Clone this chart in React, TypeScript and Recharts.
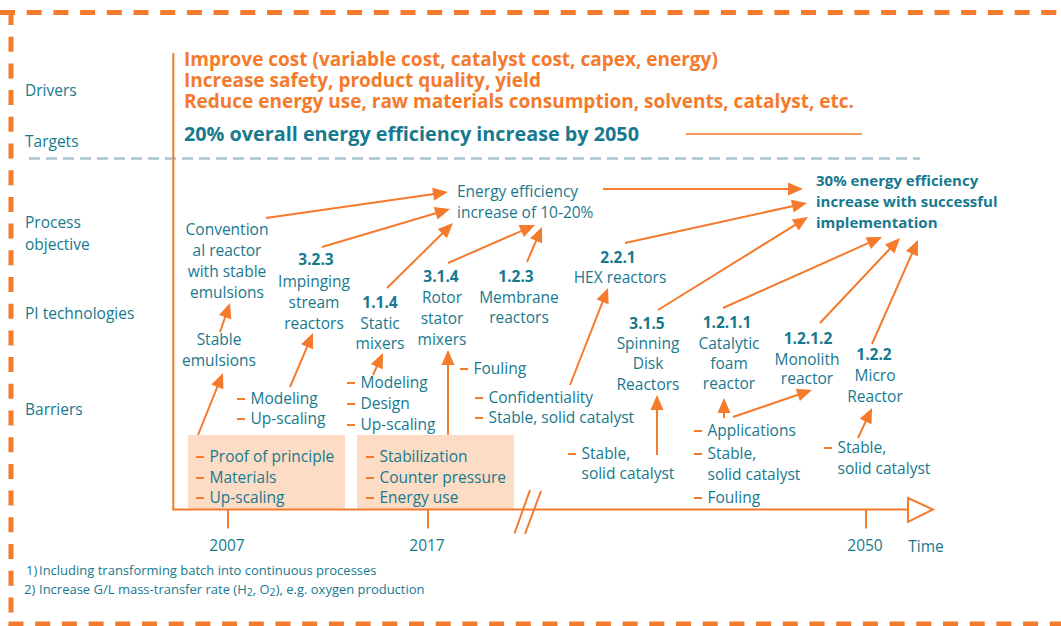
import React from 'react';
import { ScatterChart, Scatter, XAxis, YAxis, ReferenceLine, ReferenceArea } from 'recharts';

const W = 1061;
const H = 626;
const ORANGE = '#f47a2c';
const TEAL = '#17798e';
const PEACH = '#fcdcc4';
const GREY = '#a7c4cf';
const FONT = "'Open Sans', sans-serif";

// row titles in the left column
const rowLabels = [
  { x: 25, y: 90, text: 'Drivers' },
  { x: 25, y: 141, text: 'Targets' },
  { x: 25, y: 222, text: 'Process' },
  { x: 25, y: 244, text: 'objective' },
  { x: 25, y: 313, text: 'PI technologies' },
  { x: 25, y: 409, text: 'Barriers' },
];

const drivers = [
  { x: 184, y: 59, text: 'Improve cost (variable cost, catalyst cost, capex, energy)' },
  { x: 184, y: 80, text: 'Increase safety, product quality, yield' },
  { x: 184, y: 101, text: 'Reduce energy use, raw materials consumption, solvents, catalyst, etc.' },
];

const targets = [{ x: 184, y: 133, text: '20% overall energy efficiency increase by 2050' }];

const objectives = [
  { x: 457, y: 191, text: 'Energy efficiency' },
  { x: 457, y: 212, text: 'increase of 10-20%' },
];

const finalObjective = [
  { x: 816, y: 180, text: '30% energy efficiency' },
  { x: 816, y: 201, text: 'increase with successful' },
  { x: 816, y: 222, text: 'implementation' },
];

// PI technology numbers and names
const techCodes = [
  { x: 316, y: 259, text: '3.2.3' },
  { x: 380, y: 302, text: '1.1.4' },
  { x: 441, y: 276, text: '3.1.4' },
  { x: 516, y: 276, text: '1.2.3' },
  { x: 618, y: 257, text: '2.2.1' },
  { x: 647, y: 323, text: '3.1.5' },
  { x: 727, y: 322, text: '1.2.1.1' },
  { x: 808, y: 338, text: '1.2.1.2' },
  { x: 874, y: 354, text: '1.2.2' },
];

const techNames = [
  { x: 227, y: 229, text: 'Convention' },
  { x: 227, y: 250, text: 'al reactor' },
  { x: 227, y: 271, text: 'with stable' },
  { x: 227, y: 292, text: 'emulsions' },
  { x: 314, y: 281, text: 'Impinging' },
  { x: 314, y: 302, text: 'stream' },
  { x: 314, y: 323, text: 'reactors' },
  { x: 380, y: 323, text: 'Static' },
  { x: 380, y: 343, text: 'mixers' },
  { x: 442, y: 297, text: 'Rotor' },
  { x: 442, y: 318, text: 'stator' },
  { x: 442, y: 339, text: 'mixers' },
  { x: 519, y: 297, text: 'Membrane' },
  { x: 519, y: 317, text: 'reactors' },
  { x: 620, y: 277, text: 'HEX reactors' },
  { x: 648, y: 343, text: 'Spinning' },
  { x: 648, y: 363, text: 'Disk' },
  { x: 648, y: 384, text: 'Reactors' },
  { x: 729, y: 343, text: 'Catalytic' },
  { x: 729, y: 363, text: 'foam' },
  { x: 729, y: 383, text: 'reactor' },
  { x: 807, y: 359, text: 'Monolith' },
  { x: 807, y: 378, text: 'reactor' },
  { x: 875, y: 375, text: 'Micro' },
  { x: 875, y: 396, text: 'Reactor' },
];

const barrierCentered = [
  { x: 219, y: 339, text: 'Stable' },
  { x: 219, y: 360, text: 'emulsions' },
];

const barrierItems = [
  { x: 237, y: 398, text: 'Modeling', dash: true },
  { x: 237, y: 418, text: 'Up-scaling', dash: true },
  { x: 347, y: 382, text: 'Modeling', dash: true },
  { x: 347, y: 403, text: 'Design', dash: true },
  { x: 347, y: 424, text: 'Up-scaling', dash: true },
  { x: 460, y: 368, text: 'Fouling', dash: true },
  { x: 475, y: 397, text: 'Confidentiality', dash: true },
  { x: 475, y: 417, text: 'Stable, solid catalyst', dash: true },
  { x: 568, y: 453, text: 'Stable,', dash: true },
  { x: 568, y: 473, text: 'solid catalyst', dash: false },
  { x: 694, y: 430, text: 'Applications', dash: true },
  { x: 694, y: 453, text: 'Stable,', dash: true },
  { x: 694, y: 474, text: 'solid catalyst', dash: false },
  { x: 694, y: 497, text: 'Fouling', dash: true },
  { x: 824, y: 447, text: 'Stable,', dash: true },
  { x: 824, y: 468, text: 'solid catalyst', dash: false },
];

const boxes = [
  { x1: 188, x2: 345, y1: 435, y2: 509 },
  { x1: 357, x2: 514, y1: 435, y2: 509 },
];

const boxItems = [
  { x: 196, y: 456, text: 'Proof of principle', dash: true },
  { x: 196, y: 477, text: 'Materials', dash: true },
  { x: 196, y: 497, text: 'Up-scaling', dash: true },
  { x: 366, y: 456, text: 'Stabilization', dash: true },
  { x: 366, y: 477, text: 'Counter pressure', dash: true },
  { x: 366, y: 497, text: 'Energy use', dash: true },
];

// from -> to (tip)
const arrows = [
  { x1: 266, y1: 218, x2: 448, y2: 192 },
  { x1: 322, y1: 247, x2: 450, y2: 209 },
  { x1: 387, y1: 288, x2: 453, y2: 223 },
  { x1: 448, y1: 263, x2: 535, y2: 225 },
  { x1: 527, y1: 262, x2: 542, y2: 227 },
  { x1: 603, y1: 189, x2: 803, y2: 189 },
  { x1: 625, y1: 243, x2: 807, y2: 203 },
  { x1: 658, y1: 310, x2: 808, y2: 217 },
  { x1: 723, y1: 308, x2: 882, y2: 237 },
  { x1: 820, y1: 323, x2: 900, y2: 238 },
  { x1: 872, y1: 344, x2: 918, y2: 240 },
  { x1: 220, y1: 332, x2: 230, y2: 303 },
  { x1: 198, y1: 435, x2: 223, y2: 373 },
  { x1: 290, y1: 387, x2: 313, y2: 333 },
  { x1: 373, y1: 375, x2: 383, y2: 353 },
  { x1: 448, y1: 435, x2: 448, y2: 350 },
  { x1: 570, y1: 385, x2: 608, y2: 288 },
  { x1: 657, y1: 455, x2: 657, y2: 395 },
  { x1: 724, y1: 418, x2: 724, y2: 398 },
  { x1: 733, y1: 417, x2: 812, y2: 390 },
  { x1: 858, y1: 438, x2: 872, y2: 408 },
];

const timeTicks = [
  { x: 228, label: '2007' },
  { x: 428, label: '2017' },
  { x: 866, label: '2050' },
];

const footnotes = [
  { x: 26, y: 570, text: '1)' },
  { x: 24, y: 589, text: '2)' },
  { x: 39, y: 570, text: 'Including transforming batch into continuous processes' },
  { x: 39, y: 589, text: 'Increase G/L mass-transfer rate (H₂, O₂), e.g. oxygen production' },
];

const label = (size: number, weight: number, color: string, anchor: 'start' | 'middle') => (p: any) => (
  <text
    x={p.cx}
    y={p.cy}
    fontSize={size}
    fontWeight={weight}
    fill={color}
    textAnchor={anchor}
    dominantBaseline="central"
    fontFamily={FONT}
  >
    {p.payload.text}
  </text>
);

const bullet = (p: any) => (
  <g>
    {p.payload.dash && <line x1={p.cx} y1={p.cy + 1} x2={p.cx + 8} y2={p.cy + 1} stroke={ORANGE} strokeWidth={2} />}
    <text x={p.cx + 13.5} y={p.cy} fontSize={15.5} fill={TEAL} dominantBaseline="central" fontFamily={FONT}>
      {p.payload.text}
    </text>
  </g>
);

// footnote text with lowered subscripts
const footnote = (p: any) => {
  const parts = String(p.payload.text).split(/(₂)/);
  return (
    <text x={p.cx} y={p.cy} fontSize={13} fill={TEAL} dominantBaseline="central" fontFamily={FONT}>
      {parts.map((s, i) =>
        s === '₂' ? (
          <tspan key={i} dy={3} fontSize={10.5}>2</tspan>
        ) : (
          <tspan key={i} dy={i > 0 ? -3 : 0}>{s}</tspan>
        )
      )}
    </text>
  );
};

const Arrow = (p: any) => {
  const { x1, y1, x2, y2 } = p;
  const dx = x2 - x1;
  const dy = y2 - y1;
  const len = Math.hypot(dx, dy) || 1;
  const ux = dx / len;
  const uy = dy / len;
  const hl = 15;
  const hw = 6.5;
  const bx = x2 - ux * hl;
  const by = y2 - uy * hl;
  return (
    <g>
      <line x1={x1} y1={y1} x2={bx + ux} y2={by + uy} stroke={ORANGE} strokeWidth={2} />
      <polygon
        points={`${x2},${y2} ${bx - uy * hw},${by + ux * hw} ${bx + uy * hw},${by - ux * hw}`}
        fill={ORANGE}
      />
    </g>
  );
};

const TimeArrow = (p: any) => {
  const { x1, y1, x2 } = p;
  const tip = x2;
  const base = tip - 25;
  return (
    <g>
      <line x1={x1} y1={y1} x2={base} y2={y1} stroke={ORANGE} strokeWidth={2} />
      <polygon
        points={`${base},${y1 - 11.5} ${tip},${y1} ${base},${y1 + 12.5}`}
        fill="#fff"
        stroke={ORANGE}
        strokeWidth={2}
      />
    </g>
  );
};

export default function App() {
  return (
    <div style={{ position: 'absolute', left: 0, top: 0, background: '#fff' }}>
      <ScatterChart width={W} height={H} margin={{ top: 0, right: 0, bottom: 0, left: 0 }}>
        <XAxis type="number" dataKey="x" domain={[0, W]} allowDataOverflow hide />
        <YAxis type="number" dataKey="y" domain={[0, H]} allowDataOverflow reversed hide />

        {boxes.map((b, i) => (
          <ReferenceArea key={`box-${i}`} x1={b.x1} x2={b.x2} y1={b.y1} y2={b.y2} fill={PEACH} fillOpacity={1} stroke="none" />
        ))}

        {/* dashed frame */}
        <ReferenceLine segment={[{ x: 0, y: 12.5 }, { x: W, y: 12.5 }]} stroke={ORANGE} strokeWidth={5} strokeDasharray="15 11.7" />
        <ReferenceLine segment={[{ x: 11, y: 10 }, { x: 11, y: H }]} stroke={ORANGE} strokeWidth={5} strokeDasharray="15 11.7" />
        <ReferenceLine segment={[{ x: 8.5, y: 624 }, { x: W, y: 624 }]} stroke={ORANGE} strokeWidth={5} strokeDasharray="15 11.7" />

        <ReferenceLine segment={[{ x: 29, y: 158.5 }, { x: 920, y: 158.5 }]} stroke={GREY} strokeWidth={2.5} strokeDasharray="11 6" />
        <ReferenceLine segment={[{ x: 686, y: 134 }, { x: 862, y: 134 }]} stroke={ORANGE} strokeWidth={1.5} />

        {/* axes of the roadmap */}
        <ReferenceLine segment={[{ x: 173.3, y: 53 }, { x: 173.3, y: 510 }]} stroke={ORANGE} strokeWidth={2} />
        <ReferenceLine segment={[{ x: 172.5, y: 509.5 }, { x: 933, y: 509.5 }]} shape={TimeArrow} />
        {timeTicks.map((t) => (
          <ReferenceLine key={`tick-${t.label}`} segment={[{ x: t.x, y: 509.5 }, { x: t.x, y: 528.5 }]} stroke={ORANGE} strokeWidth={2} />
        ))}
        <ReferenceLine segment={[{ x: 530, y: 490 }, { x: 514.5, y: 533.5 }]} stroke={ORANGE} strokeWidth={2} />
        <ReferenceLine segment={[{ x: 541, y: 491 }, { x: 525, y: 534 }]} stroke={ORANGE} strokeWidth={2} />

        {arrows.map((a, i) => (
          <ReferenceLine key={`arrow-${i}`} segment={[{ x: a.x1, y: a.y1 }, { x: a.x2, y: a.y2 }]} shape={Arrow} />
        ))}

        <Scatter data={rowLabels} shape={label(15.5, 400, TEAL, 'start')} isAnimationActive={false} />
        <Scatter data={drivers} shape={label(19, 700, ORANGE, 'start')} isAnimationActive={false} />
        <Scatter data={targets} shape={label(19.8, 700, TEAL, 'start')} isAnimationActive={false} />
        <Scatter data={objectives} shape={label(15.5, 400, TEAL, 'start')} isAnimationActive={false} />
        <Scatter data={finalObjective} shape={label(15, 700, TEAL, 'start')} isAnimationActive={false} />
        <Scatter data={techCodes} shape={label(15.5, 700, TEAL, 'middle')} isAnimationActive={false} />
        <Scatter data={techNames} shape={label(15.5, 400, TEAL, 'middle')} isAnimationActive={false} />
        <Scatter data={barrierCentered} shape={label(15.5, 400, TEAL, 'middle')} isAnimationActive={false} />
        <Scatter data={barrierItems} shape={bullet} isAnimationActive={false} />
        <Scatter data={boxItems} shape={bullet} isAnimationActive={false} />
        <Scatter
          data={timeTicks.map((t) => ({ x: t.x - 1, y: 545, text: t.label }))}
          shape={label(15.5, 400, TEAL, 'middle')}
          isAnimationActive={false}
        />
        <Scatter data={[{ x: 926, y: 546, text: 'Time' }]} shape={label(15.5, 400, TEAL, 'middle')} isAnimationActive={false} />
        <Scatter data={footnotes} shape={footnote} isAnimationActive={false} />
      </ScatterChart>
    </div>
  );
}
